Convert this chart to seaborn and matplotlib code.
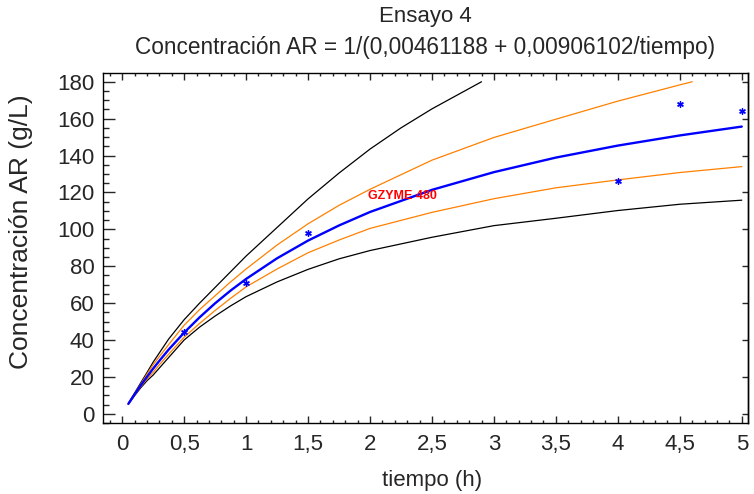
import matplotlib
matplotlib.use("Agg")
import matplotlib.pyplot as plt
import seaborn as sns
from matplotlib.ticker import MultipleLocator, FuncFormatter

# observed points (tiempo h, concentracion g/L)
obs_t = [0.5, 1.0, 1.5, 4.0, 4.5, 5.0]
obs_c = [44.5, 70.8, 97.8, 126.3, 168.0, 164.0]

# curves
t_fit = [0.05, 0.1, 0.15, 0.2, 0.25, 0.3, 0.375, 0.5, 0.625, 0.75, 0.875, 1.0, 1.25, 1.5, 1.75, 2.0, 2.5, 3.0, 3.5, 4.0, 4.5, 5.0]
c_fit = [5.4, 10.5, 15.4, 20.0, 24.5, 28.7, 34.8, 44.0, 52.3, 59.9, 66.8, 73.1, 84.3, 93.9, 102.1, 109.4, 121.4, 131.0, 138.9, 145.4, 150.9, 155.7]

t_conf_hi = [0.05, 0.1, 0.15, 0.2, 0.25, 0.3, 0.375, 0.5, 0.625, 0.75, 0.875, 1.0, 1.25, 1.5, 1.75, 2.0, 2.5, 3.0, 3.5, 4.0, 4.5, 4.6]
c_conf_hi = [5.5, 10.8, 16.0, 21.5, 26.6, 31.0, 37.5, 48.0, 56.5, 64.0, 71.5, 78.5, 91.5, 103.0, 113.0, 121.7, 137.5, 149.8, 159.7, 169.5, 178.3, 180.0]
t_conf_lo = t_fit
c_conf_lo = [5.3, 10.1, 14.7, 18.8, 22.5, 26.6, 32.3, 41.5, 49.0, 56.0, 62.6, 68.8, 78.5, 87.3, 94.2, 100.5, 109.2, 116.6, 122.5, 126.8, 130.8, 134.0]

t_pred_hi = [0.05, 0.1, 0.15, 0.2, 0.25, 0.3, 0.375, 0.5, 0.625, 0.75, 0.875, 1.0, 1.25, 1.5, 1.75, 2.0, 2.25, 2.5, 2.9]
c_pred_hi = [5.6, 11.2, 16.8, 22.3, 28.0, 33.0, 40.5, 51.0, 60.0, 68.5, 77.0, 85.5, 101.0, 116.5, 130.5, 143.5, 155.0, 165.3, 180.0]
t_pred_lo = t_fit
c_pred_lo = [5.2, 9.8, 14.1, 17.9, 21.0, 24.8, 30.5, 40.0, 47.0, 53.0, 58.5, 63.5, 71.5, 78.3, 84.0, 88.5, 95.7, 102.0, 106.0, 110.2, 113.6, 115.8]

label_txt = "GZYME 480"
title1 = "Ensayo 4"
title2 = "Concentración AR = 1/(0,00461188 + 0,00906102/tiempo)"

sns.set_style("ticks")
plt.rcParams["font.family"] = ["Liberation Sans", "DejaVu Sans"]

fig = plt.figure(figsize=(7.54, 4.94), dpi=100)
ax = fig.add_axes([0.1362, 0.1431, 0.992 - 0.1362, 0.8528 - 0.1431])

sns.lineplot(x=t_pred_hi, y=c_pred_hi, ax=ax, color="black", lw=0.9, sort=False)
sns.lineplot(x=t_pred_lo, y=c_pred_lo, ax=ax, color="black", lw=0.9, sort=False)
sns.lineplot(x=t_conf_hi, y=c_conf_hi, ax=ax, color="#ff8000", lw=0.9, sort=False)
sns.lineplot(x=t_conf_lo, y=c_conf_lo, ax=ax, color="#ff8000", lw=0.9, sort=False)
sns.lineplot(x=t_fit, y=c_fit, ax=ax, color="#0000ff", lw=1.7, sort=False)
sns.scatterplot(x=obs_t, y=obs_c, ax=ax, color="#0000ff", marker=(6, 2, 0), s=16, linewidth=1.0, zorder=5)

ax.text(1.985, 118, label_txt, color="red", fontsize=9, fontweight="bold", va="center", ha="left")

ax.set_xlim(-0.157, 5.05)
ax.set_ylim(-5.15, 184.9)
ax.xaxis.set_major_locator(MultipleLocator(0.5))
ax.xaxis.set_minor_locator(MultipleLocator(0.1))
ax.yaxis.set_major_locator(MultipleLocator(20))
ax.yaxis.set_minor_locator(MultipleLocator(5))
ax.xaxis.set_major_formatter(FuncFormatter(lambda v, p: f"{v:g}".replace(".", ",")))

ax.tick_params(axis="x", which="major", direction="in", length=4.8, width=1, top=True, labelsize=16, pad=8)
ax.tick_params(axis="x", which="minor", direction="in", length=2.4, width=1, top=True)
ax.tick_params(axis="y", which="major", direction="in", length=8.6, width=1, right=False, labelsize=16, pad=6)
ax.tick_params(axis="y", which="minor", direction="in", length=4.3, width=1, right=False)
sec = ax.secondary_yaxis("right")
sec.yaxis.set_major_locator(MultipleLocator(20))
sec.tick_params(direction="in", length=4.5, width=1, labelright=False)
for sp in list(ax.spines.values()) + [sec.spines["right"]]:
    sp.set_linewidth(1.0)
    sp.set_color("black")

ax.set_xlabel("tiempo (h)", fontsize=16)
ax.xaxis.set_label_coords(0.51, -0.133)
ax.xaxis.label.set_va("top")
ax.set_ylabel("Concentración AR (g/L)", fontsize=19)
ax.yaxis.set_label_coords(-0.108, 0.547)

fig.text(0.564, 0.966, title1, ha="center", va="center", fontsize=16)
fig.text(0.564, 0.903, title2, ha="center", va="center", fontsize=16.3)

fig.savefig("out.png", dpi=100)
